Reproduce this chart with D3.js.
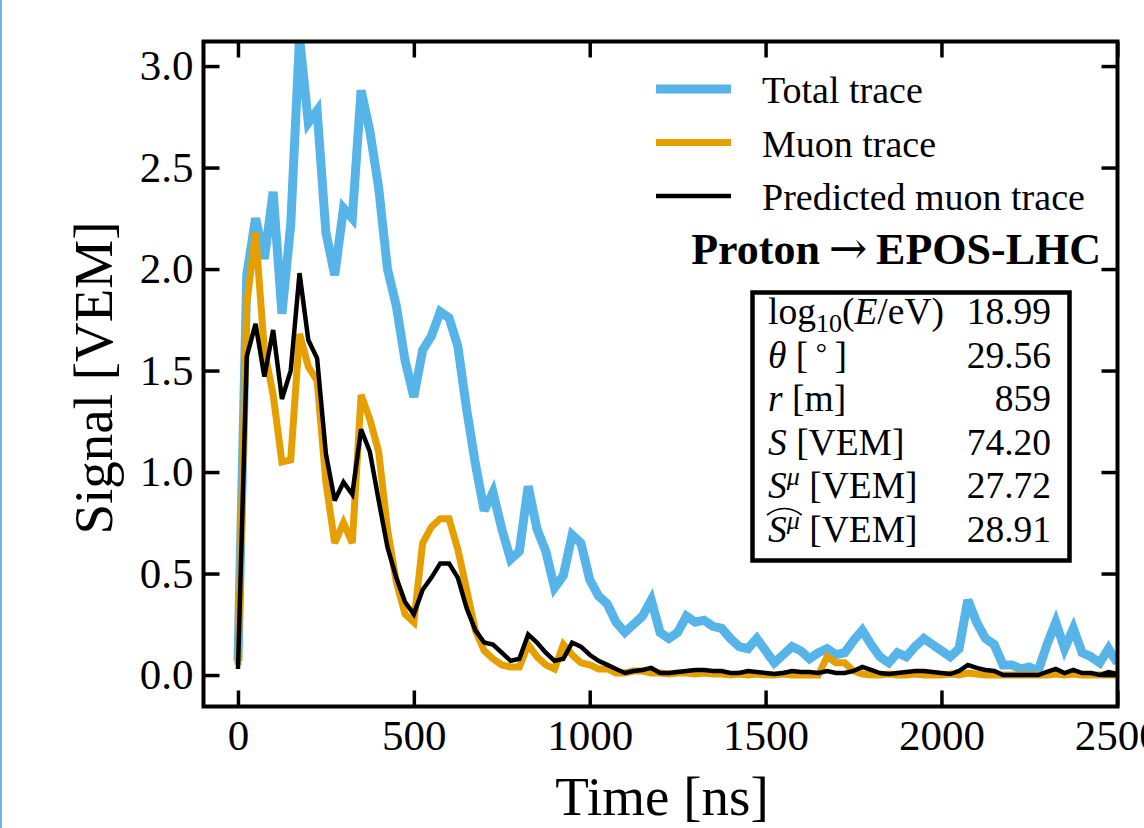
<!DOCTYPE html>
<html>
<head>
<meta charset="utf-8">
<script src="https://cdn.jsdelivr.net/npm/d3@7"></script>
<style>
  html, body { margin: 0; padding: 0; background: #fff; overflow: hidden; }
  svg { display: block; font-family: "Liberation Serif", "Times New Roman", serif; }
</style>
</head>
<body>
<svg id="chart"></svg>
<script>
// samples every 25 ns
var time = d3.range(0, 2501, 25);

var totalTrace = [
  0.07, 1.97, 2.25, 2.05, 2.38, 1.78, 2.22, 3.14, 2.72, 2.78,
  2.18, 1.97, 2.30, 2.25, 2.88, 2.68, 2.40, 2.00, 1.82, 1.55,
  1.37, 1.60, 1.67, 1.79, 1.76, 1.62, 1.31, 1.04, 0.81, 0.90,
  0.72, 0.57, 0.61, 0.93, 0.72, 0.61, 0.43, 0.49, 0.69, 0.65,
  0.47, 0.39, 0.35, 0.26, 0.21, 0.25, 0.29, 0.37, 0.21, 0.18,
  0.21, 0.29, 0.26, 0.27, 0.24, 0.23, 0.18, 0.14, 0.13, 0.18,
  0.12, 0.06, 0.10, 0.14, 0.12, 0.08, 0.11, 0.13, 0.10, 0.11,
  0.17, 0.22, 0.15, 0.09, 0.06, 0.11, 0.09, 0.14, 0.18, 0.15,
  0.12, 0.09, 0.13, 0.37, 0.26, 0.18, 0.15, 0.05, 0.05, 0.03,
  0.04, 0.02, 0.15, 0.26, 0.13, 0.23, 0.11, 0.09, 0.06, 0.13,
  0.06
];

var muonTrace = [
  0.05, 1.83, 2.18, 1.60, 1.38, 1.05, 1.06, 1.68, 1.52, 1.45,
  0.95, 0.65, 0.75, 0.65, 1.38, 1.26, 1.10, 0.72, 0.46, 0.30,
  0.26, 0.65, 0.73, 0.77, 0.77, 0.62, 0.42, 0.22, 0.12, 0.08,
  0.05, 0.04, 0.04, 0.15, 0.09, 0.05, 0.03, 0.15, 0.10, 0.06,
  0.05, 0.03, 0.03, 0.01, 0.01, 0.02, 0.02, 0.01, 0.01, 0.005,
  0.01, 0.01, 0.005, 0.01, 0.005, 0.005, 0.0, 0.005, 0.0, 0.005,
  0.0, 0.0, 0.005, 0.0, 0.0, 0.0, 0.0, 0.09, 0.06, 0.06,
  0.02, 0.005, 0.0, 0.0, 0.005, 0.0, 0.0, 0.005, 0.0, 0.0,
  0.0, 0.005, 0.0, 0.01, 0.005, 0.0, 0.0, 0.0, 0.0, 0.0,
  0.0, 0.0, 0.0, 0.005, 0.0, 0.005, 0.0, 0.0, 0.0, 0.0,
  0.0
];

var predictedTrace = [
  0.03, 1.57, 1.73, 1.47, 1.70, 1.36, 1.50, 1.98, 1.65, 1.56,
  1.09, 0.86, 0.95, 0.89, 1.21, 1.10, 0.86, 0.63, 0.48, 0.36,
  0.30, 0.42, 0.48, 0.55, 0.55, 0.48, 0.33, 0.22, 0.16, 0.15,
  0.11, 0.07, 0.08, 0.20, 0.16, 0.11, 0.07, 0.08, 0.16, 0.14,
  0.10, 0.07, 0.05, 0.03, 0.01, 0.02, 0.025, 0.035, 0.01, 0.01,
  0.015, 0.02, 0.025, 0.025, 0.02, 0.02, 0.01, 0.01, 0.02, 0.015,
  0.01, 0.005, 0.01, 0.02, 0.015, 0.015, 0.01, 0.02, 0.01, 0.01,
  0.02, 0.04, 0.025, 0.01, 0.005, 0.01, 0.015, 0.02, 0.02, 0.015,
  0.01, 0.005, 0.02, 0.05, 0.035, 0.025, 0.02, 0.0, 0.0, 0.0,
  0.0, 0.0, 0.015, 0.03, 0.01, 0.025, 0.01, 0.01, 0.0, 0.015,
  0.005
];

var seriesNames = ["Total trace", "Muon trace", "Predicted muon trace"];
var seriesColors = ["#56b4e9", "#e69f00", "#000000"];
var seriesWidths = [9, 7, 4.5];

var xTicks = [0, 500, 1000, 1500, 2000, 2500];
var yTicks = [0, 0.5, 1.0, 1.5, 2.0, 2.5, 3.0];

var infoLabels = ["log10(E/eV)", "θ [°]", "r [m]", "S [VEM]", "Sμ [VEM]", "hat Sμ [VEM]"];
var infoValues = ["18.99", "29.56", "859", "74.20", "27.72", "28.91"];

var W = 1144, H = 828;
var margin = {left: 203.5, right: 1117.5, top: 41.5, bottom: 706.5};
var FONT = '"Liberation Serif", "Times New Roman", serif';

var svg = d3.select("#chart").attr("width", W).attr("height", H);

// thin blue frame line at the left edge of the picture
svg.append("line").attr("x1", 1).attr("x2", 1).attr("y1", 0).attr("y2", H)
  .attr("stroke", "#74b3df").attr("stroke-width", 2);

var xScale = d3.scaleLinear().domain([-98, 2500.5]).range([margin.left, margin.right]);
var yScale = d3.scaleLinear().domain([-0.155, 3.121]).range([margin.bottom, margin.top]);

svg.append("defs").append("clipPath").attr("id", "plotclip")
  .append("rect")
  .attr("x", margin.left).attr("y", margin.top)
  .attr("width", margin.right - margin.left).attr("height", margin.bottom - margin.top);

var line = d3.line()
  .x(function(d) { return xScale(d[0]); })
  .y(function(d) { return yScale(d[1]); });

var traces = [totalTrace, muonTrace, predictedTrace];
var plot = svg.append("g").attr("clip-path", "url(#plotclip)");
traces.forEach(function(vals, i) {
  plot.append("path")
    .datum(time.map(function(t, j) { return [t, vals[j]]; }))
    .attr("d", line)
    .attr("fill", "none")
    .attr("stroke", seriesColors[i])
    .attr("stroke-width", seriesWidths[i])
    .attr("stroke-linejoin", "miter")
    .attr("stroke-miterlimit", 3);
});

// axes: ticks inward on all four sides
var tickLen = 16;
function styleAxis(g) {
  g.select(".domain").remove();
  g.selectAll(".tick line").attr("stroke", "#000").attr("stroke-width", 3.5);
  g.selectAll(".tick text").attr("fill", "#000").attr("font-size", 43).attr("font-family", FONT);
}

svg.append("g").attr("transform", "translate(0," + margin.bottom + ")")
  .call(d3.axisBottom(xScale).tickValues(xTicks).tickFormat(d3.format("d"))
    .tickSizeInner(-tickLen).tickSizeOuter(0).tickPadding(13))
  .call(styleAxis);
svg.append("g").attr("transform", "translate(0," + margin.top + ")")
  .call(d3.axisTop(xScale).tickValues(xTicks).tickFormat("")
    .tickSizeInner(-tickLen).tickSizeOuter(0))
  .call(styleAxis);
svg.append("g").attr("transform", "translate(" + margin.left + ",0)")
  .call(d3.axisLeft(yScale).tickValues(yTicks).tickFormat(d3.format(".1f"))
    .tickSizeInner(-tickLen).tickSizeOuter(0).tickPadding(10))
  .call(styleAxis);
svg.append("g").attr("transform", "translate(" + margin.right + ",0)")
  .call(d3.axisRight(yScale).tickValues(yTicks).tickFormat("")
    .tickSizeInner(-tickLen).tickSizeOuter(0))
  .call(styleAxis);

svg.append("rect")
  .attr("x", margin.left).attr("y", margin.top)
  .attr("width", margin.right - margin.left).attr("height", margin.bottom - margin.top)
  .attr("fill", "none").attr("stroke", "#000").attr("stroke-width", 4);

svg.append("text")
  .attr("x", 662).attr("y", 815)
  .attr("text-anchor", "middle").attr("font-size", 55).attr("font-family", FONT)
  .text("Time [ns]");

svg.append("text")
  .attr("transform", "translate(112,378) rotate(-90)")
  .attr("text-anchor", "middle").attr("font-size", 55).attr("font-family", FONT)
  .text("Signal [VEM]");

// legend
var legend = svg.append("g");
seriesNames.forEach(function(name, i) {
  var y = 89 + i * 53.5;
  legend.append("line").attr("x1", 656).attr("x2", 731).attr("y1", y).attr("y2", y)
    .attr("stroke", seriesColors[i]).attr("stroke-width", seriesWidths[i]);
  legend.append("text").attr("x", 762).attr("y", y + 14)
    .attr("font-size", 38).attr("font-family", FONT).text(name);
});
var title = legend.append("text").attr("x", 1101).attr("y", 264).attr("text-anchor", "end")
  .attr("font-size", 44).attr("font-weight", "bold").attr("font-family", FONT);
title.append("tspan").text("Proton\u2009");
title.append("tspan").attr("font-size", 46).attr("font-weight", "normal")
  .attr("font-family", '"DejaVu Serif", serif').text("\u2192");
title.append("tspan").text("\u2009EPOS-LHC");

// info box
var box = svg.append("g");
box.append("rect").attr("x", 752.5).attr("y", 292.5).attr("width", 317).attr("height", 268)
  .attr("fill", "#fff").attr("stroke", "#000").attr("stroke-width", 4.5);

var rowY = function(i) { return 324 + i * 43.6; };
var fs = 37.5;
infoLabels.forEach(function(lbl, i) {
  var t = box.append("text").attr("x", 768).attr("y", rowY(i))
    .attr("font-size", fs).attr("font-family", FONT);
  if (i === 0) {
    t.append("tspan").text("log");
    t.append("tspan").attr("font-size", 26).attr("dy", 8).text("10");
    t.append("tspan").attr("dy", -8).text("(");
    t.append("tspan").attr("font-style", "italic").text("E");
    t.append("tspan").text("/eV)");
  } else if (i === 1) {
    t.append("tspan").attr("font-style", "italic").text("θ");
    t.append("tspan").text(" [\u2009");
    t.append("tspan").attr("font-size", 28).attr("dy", -6).text("°");
    t.append("tspan").attr("dy", 6).text("\u2009]");
  } else if (i === 2) {
    t.append("tspan").attr("font-style", "italic").text("r");
    t.append("tspan").text(" [m]");
  } else if (i === 3) {
    t.append("tspan").attr("font-style", "italic").text("S");
    t.append("tspan").text(" [VEM]");
  } else {
    t.append("tspan").attr("font-style", "italic").text("S");
    t.append("tspan").attr("font-style", "italic").attr("font-size", 26).attr("dy", -13).text("μ");
    t.append("tspan").attr("dy", 13).text(" [VEM]");
    if (i === 5) {
      var node = t.node();
      var a = node.getExtentOfChar(0), b = node.getExtentOfChar(1);
      var x0 = a.x - 1, x1 = b.x + b.width + 2, yb = a.y + 1;
      box.append("path")
        .attr("d", "M" + x0 + "," + (yb + 5) + " Q" + ((x0 + x1) / 2) + "," + (yb - 8) + " " + x1 + "," + (yb + 5))
        .attr("fill", "none").attr("stroke", "#000").attr("stroke-width", 1.6);
    }
  }
  box.append("text").attr("x", 1051).attr("y", rowY(i)).attr("text-anchor", "end")
    .attr("font-size", fs).attr("font-family", FONT).text(infoValues[i]);
});
</script>
</body>
</html>
